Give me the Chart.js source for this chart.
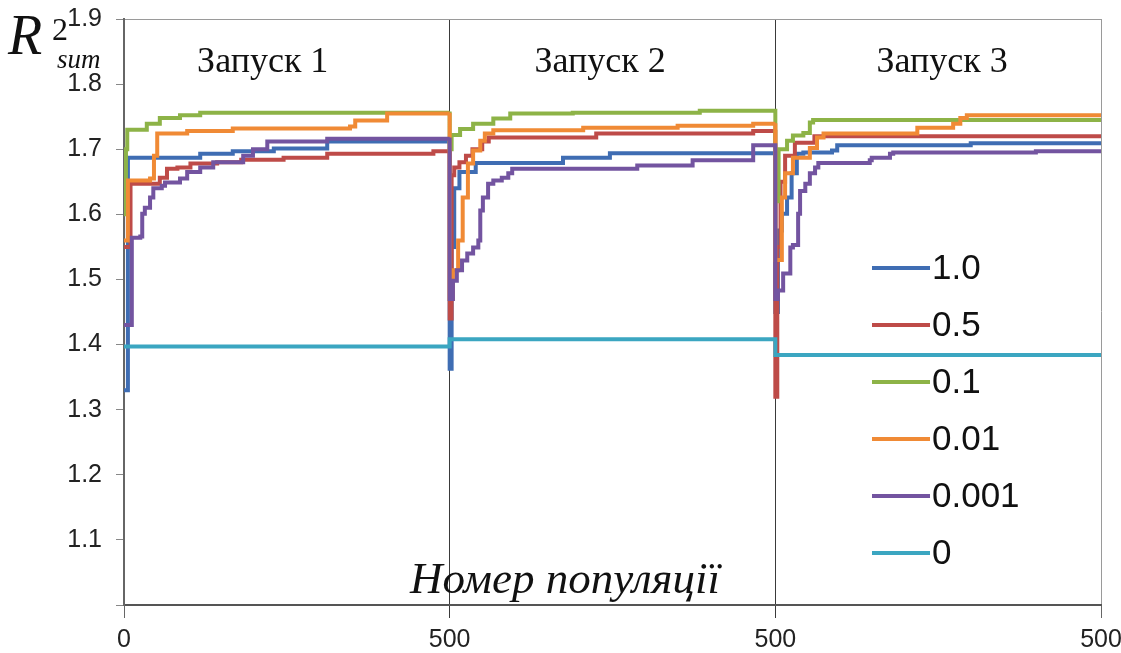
<!DOCTYPE html>
<html>
<head>
<meta charset="utf-8">
<script src="https://cdn.jsdelivr.net/npm/chart.js@4.4.1/dist/chart.umd.min.js"></script>
<style>
  html, body { margin: 0; padding: 0; background: #fff; }
  #wrap { width: 1121px; height: 653px; }
</style>
</head>
<body>
<div id="wrap"><canvas id="chart" width="1121" height="653"></canvas></div>
<script>
// series labels (rate values) and colours
const seriesLabels = ["1.0", "0.5", "0.1", "0.01", "0.001", "0"];
const seriesColors = ["#3F6DB3", "#BE4B48", "#8DB347", "#F08A35", "#7354A0", "#3BA6C1"];

// tick labels: every run is 0..500 populations, runs put one after another
const xTickLabels = ["0", "500", "500", "500"];
const runLabels = ["Запуск 1", "Запуск 2", "Запуск 3"];

// best R2 so far, [population, value]
const rate1_0 = [
  [0, 1.33], [6, 1.687], [117, 1.693], [167, 1.697], [230, 1.701], [312, 1.712], [500, 1.712],
  [500, 1.363], [503, 1.55], [507, 1.64], [515, 1.665], [540, 1.679], [674, 1.687], [746, 1.694], [1000, 1.695],
  [1000, 1.45], [1004, 1.575], [1010, 1.601], [1018, 1.626], [1025, 1.663], [1033, 1.693], [1043, 1.695],
  [1087, 1.698], [1095, 1.706], [1300, 1.709], [1500, 1.709]
];
const rate0_5 = [
  [0, 1.55], [10, 1.647], [55, 1.656], [66, 1.670], [82, 1.672], [102, 1.678], [143, 1.680], [180, 1.684],
  [245, 1.687], [312, 1.693], [475, 1.697], [500, 1.697],
  [500, 1.44], [503, 1.66], [507, 1.672], [515, 1.68], [525, 1.69], [535, 1.70], [550, 1.712], [560, 1.718],
  [725, 1.724], [966, 1.728], [1000, 1.73],
  [1000, 1.32], [1003, 1.55], [1008, 1.65], [1015, 1.69], [1030, 1.71], [1060, 1.72], [1500, 1.721]
];
const rate0_1 = [
  [0, 1.60], [3, 1.70], [5, 1.730], [35, 1.739], [55, 1.748], [86, 1.752], [117, 1.756], [500, 1.758],
  [500, 1.70], [503, 1.722], [516, 1.731], [536, 1.739], [567, 1.747], [593, 1.755], [689, 1.756], [884, 1.759], [1000, 1.759],
  [1000, 1.62], [1005, 1.70], [1018, 1.713], [1027, 1.721], [1043, 1.725], [1053, 1.741], [1058, 1.745], [1500, 1.745]
];
const rate0_01 = [
  [0, 1.56], [6, 1.652], [40, 1.655], [46, 1.69], [51, 1.724], [97, 1.728], [167, 1.732], [347, 1.735],
  [355, 1.744], [404, 1.755], [500, 1.756],
  [500, 1.47], [505, 1.514], [513, 1.560], [520, 1.626], [528, 1.678], [536, 1.698], [547, 1.713], [554, 1.724],
  [567, 1.729], [705, 1.733], [850, 1.736], [966, 1.739], [1000, 1.74],
  [1000, 1.53], [1010, 1.626], [1015, 1.663], [1027, 1.687], [1053, 1.702], [1064, 1.718], [1074, 1.724],
  [1212, 1.724], [1218, 1.733], [1273, 1.739], [1284, 1.748], [1294, 1.752], [1500, 1.752]
];
const rate0_001 = [
  [0, 1.43], [12, 1.564], [25, 1.566], [28, 1.601], [32, 1.610], [40, 1.626], [45, 1.640], [58, 1.644],
  [63, 1.649], [86, 1.655], [97, 1.665], [117, 1.672], [137, 1.680], [183, 1.690], [198, 1.700], [220, 1.712],
  [312, 1.716], [500, 1.718],
  [500, 1.47], [505, 1.498], [511, 1.514], [519, 1.529], [527, 1.540], [536, 1.549], [544, 1.560], [547, 1.606],
  [551, 1.626], [559, 1.647], [567, 1.652], [580, 1.656], [590, 1.663], [596, 1.670], [788, 1.675], [873, 1.683],
  [966, 1.706], [1000, 1.706],
  [1000, 1.47], [1004, 1.483], [1012, 1.509], [1023, 1.549], [1027, 1.553], [1035, 1.601], [1038, 1.636],
  [1046, 1.647], [1053, 1.663], [1061, 1.672], [1066, 1.679], [1145, 1.683], [1148, 1.687], [1176, 1.693],
  [1181, 1.695], [1400, 1.697], [1500, 1.700]
];
const rate0 = [
  [0, 1.397], [500, 1.397],
  [500, 1.408], [1000, 1.408],
  [1000, 1.384], [1500, 1.384]
];

const seriesData = [rate1_0, rate0_5, rate0_1, rate0_01, rate0_001, rate0];

const SANS = '"Liberation Sans", Arial, sans-serif';
const SERIF = '"Liberation Serif", "Times New Roman", serif';

// texts drawn on top: run captions, axis captions, legend
const overlayText = {
  id: "overlayText",
  afterDraw(chart) {
    const ctx = chart.ctx;
    const xs = chart.scales.x;
    ctx.save();
    ctx.fillStyle = "#111";

    // run captions
    ctx.font = "36px " + SERIF;
    ctx.textAlign = "center";
    ctx.textBaseline = "alphabetic";
    const captionX = [213, 731, 1256];
    runLabels.forEach(function (t, i) {
      ctx.fillText(t, xs.getPixelForValue(captionX[i]), 72);
    });

    // x axis caption
    ctx.font = "italic 45px " + SERIF;
    ctx.textAlign = "left";
    ctx.fillText("Номер популяції", 410, 593);

    // y axis caption R2 sum
    ctx.font = "italic 56px " + SERIF;
    ctx.fillText("R", 8, 54);
    ctx.font = "32px " + SERIF;
    ctx.fillText("2", 52, 40);
    ctx.font = "italic 27px " + SERIF;
    ctx.fillText("sum", 57, 68);

    // legend
    ctx.font = "35px " + SANS;
    ctx.textBaseline = "middle";
    chart.data.datasets.forEach(function (ds, i) {
      const y = 268 + i * 57;
      ctx.strokeStyle = ds.borderColor;
      ctx.lineWidth = 4;
      ctx.beginPath();
      ctx.moveTo(872, y);
      ctx.lineTo(930, y);
      ctx.stroke();
      ctx.fillStyle = "#111";
      ctx.fillText(ds.label, 932, y + 1);
    });
    ctx.restore();
  }
};

new Chart(document.getElementById("chart"), {
  type: "line",
  data: {
    datasets: seriesData.map(function (pts, i) {
      return {
        label: seriesLabels[i],
        data: pts.map(function (p) { return { x: p[0], y: p[1] }; }),
        borderColor: seriesColors[i],
        backgroundColor: seriesColors[i],
        borderWidth: 4,
        pointRadius: 0,
        stepped: true,
        fill: false,
        order: -i
      };
    })
  },
  options: {
    responsive: false,
    animation: false,
    events: [],
    layout: { padding: { top: 19, right: 20, left: 0, bottom: 0 } },
    plugins: {
      legend: { display: false },
      tooltip: { enabled: false }
    },
    scales: {
      x: {
        type: "linear",
        min: 0,
        max: 1500,
        afterFit: function (scale) {
          scale.height = 48;
          scale.paddingLeft = 0;
          scale.paddingRight = 0;
        },
        afterBuildTicks: function (scale) {
          scale.ticks = xTickLabels.map(function (t, i) { return { value: i * 500 }; });
        },
        ticks: {
          autoSkip: false,
          maxRotation: 0,
          padding: 7,
          color: "#222",
          font: { family: SANS, size: 25 },
          callback: function (value, index) { return xTickLabels[index]; }
        },
        grid: {
          drawTicks: true,
          tickLength: 13,
          lineWidth: 1,
          color: function (c) {
            const v = c.tick && c.tick.value;
            if (v === 500 || v === 1000) return "#3a3a3a";
            if (v === 1500) return "#9a9a9a";
            return "rgba(0,0,0,0)";
          },
          tickColor: function (c) {
            const v = c.tick && c.tick.value;
            return (v === 500 || v === 1000) ? "#3a3a3a" : "#666";
          }
        },
        border: { display: true, color: "#555", width: 2 }
      },
      y: {
        min: 1.0,
        max: 1.9,
        afterFit: function (scale) {
          scale.width = 124;
          scale.paddingTop = 0;
          scale.paddingBottom = 0;
        },
        ticks: {
          stepSize: 0.1,
          padding: 14,
          color: "#222",
          font: { family: SANS, size: 25 },
          callback: function (value) {
            return Math.abs(value - 1.0) < 1e-6 ? "" : Number(value).toFixed(1);
          }
        },
        grid: {
          drawTicks: true,
          tickLength: 8,
          lineWidth: 1,
          color: function (c) {
            const v = c.tick && c.tick.value;
            return (v !== undefined && Math.abs(v - 1.9) < 1e-6) ? "#9a9a9a" : "rgba(0,0,0,0)";
          },
          tickColor: "#888"
        },
        border: { display: true, color: "#666", width: 2 }
      }
    }
  },
  plugins: [overlayText]
});
</script>
</body>
</html>
